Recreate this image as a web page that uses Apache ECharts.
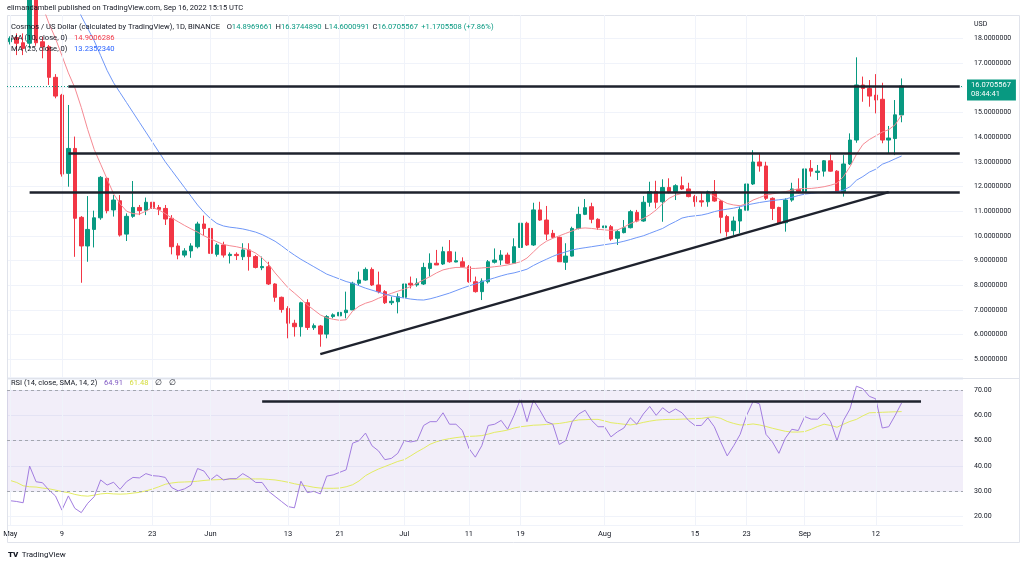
<!DOCTYPE html>
<html><head><meta charset="utf-8">
<script src="https://cdn.jsdelivr.net/npm/echarts@6/dist/echarts.min.js"></script>
<style>html,body{margin:0;padding:0;background:#fff}#c{width:1024px;height:565px}</style>
</head><body><div id="c"></div>
<script>
// ---------- categories (daily, 2022-05-01 .. 2022-09-25, last 9 days empty) ----------
const categories = [];
(function () {
  const t0 = Date.UTC(2022, 4, 1);
  for (let k = 0; k < 148; k++) categories.push(new Date(t0 + k * 86400000).toISOString().slice(0, 10));
})();

// x-axis tick labels
const xTickDates  = ['2022-05-01','2022-05-09','2022-05-23','2022-06-01','2022-06-13','2022-06-21','2022-07-01','2022-07-11','2022-07-19','2022-08-01','2022-08-15','2022-08-23','2022-09-01','2022-09-12'];
const xTickLabels = ['May','9','23','Jun','13','21','Jul','11','19','Aug','15','23','Sep','12'];

// ---------- OHLC ----------
const opens = [17.86,18.03,17.82,17.80,19.6,17.86,17.66,16.42,15.70,12.53,
13.54,10.75,9.59,10.26,10.73,12.33,11.05,11.42,10.07,10.79,
11.15,11.04,11.36,11.15,11.11,10.71,9.59,9.22,9.39,9.56,
10.48,10.30,9.25,9.63,9.20,9.25,9.155,9.43,9.16,8.71,
8.75,8.05,7.51,7.06,6.46,6.32,7.29,6.28,6.35,6.02,
6.73,6.76,6.89,7.00,8.08,8.21,8.64,8.01,7.74,7.29,
7.33,7.51,8.08,8.01,8.05,8.68,8.89,8.86,9.36,8.94,
8.95,8.75,8.14,7.74,8.14,8.93,9.02,9.22,8.89,9.53,
10.51,9.63,11.05,10.64,10.10,9.94,8.93,9.18,10.30,10.87,
11.18,10.67,10.33,10.37,9.90,10.13,10.33,10.95,10.60,11.36,
11.79,11.38,11.96,11.79,12.03,11.90,11.59,11.42,11.38,11.79,
11.41,10.78,10.21,10.60,11.04,12.10,12.99,12.83,11.52,11.15,
10.53,11.45,11.88,11.79,12.73,12.57,12.62,13.04,12.62,11.79,
12.91,13.88,16.11,15.97,15.70,15.53,13.88,13.94,14.8969661];
const closes = [18.00,17.80,17.59,19.6,17.82,17.66,16.42,15.66,12.50,13.54,
10.71,9.59,10.26,10.73,12.37,11.02,11.45,10.03,10.79,11.15,
11.02,11.36,11.11,11.07,10.68,9.56,9.22,9.39,9.59,10.48,
10.30,9.29,9.63,9.22,9.25,9.20,9.43,9.16,8.72,8.76,
8.05,7.51,7.02,6.46,6.32,7.29,6.29,6.36,6.02,6.73,
6.80,6.90,6.99,8.08,8.21,8.64,8.01,7.74,7.29,7.35,
7.53,8.05,8.01,8.08,8.72,8.89,8.82,9.36,8.95,8.99,
8.75,8.14,7.74,8.17,8.95,9.02,9.22,8.89,9.56,10.51,
9.63,11.05,10.64,10.07,9.94,8.95,9.18,10.30,10.87,11.14,
10.67,10.34,10.40,9.87,10.17,10.33,10.98,10.60,11.36,11.79,
11.36,11.96,11.75,12.03,11.90,11.59,11.38,11.37,11.79,11.41,
10.75,10.17,10.60,11.07,12.10,12.99,12.83,11.52,11.11,10.51,
11.45,11.90,11.79,12.71,12.62,12.62,13.04,12.62,11.79,12.91,
13.88,16.11,15.97,15.66,15.50,13.88,13.96,14.90,16.0705567];
const highs = [18.08,18.2,18.2,20.2,19.9,18.07,17.73,16.55,15.75,15.30,
14.02,10.8,11.61,11.02,12.42,12.37,11.65,11.65,10.91,12.22,
11.25,11.55,12.33,11.25,11.25,10.84,9.70,9.50,9.70,10.57,
10.82,10.44,9.70,9.76,9.33,9.33,9.70,9.70,9.22,9.16,
8.95,8.08,7.54,7.15,6.60,7.33,7.43,6.45,6.39,6.79,
6.86,7.13,7.74,8.14,8.55,8.72,8.72,8.55,7.80,7.54,
7.67,8.35,8.35,8.28,8.91,9.29,9.43,9.56,9.83,9.36,
9.13,8.82,8.35,8.28,9.02,9.49,9.42,9.32,9.90,10.75,
10.57,11.34,11.38,11.21,10.24,9.97,9.70,10.37,11.18,11.49,
11.34,10.71,11.25,10.44,10.24,10.64,11.05,11.05,11.61,12.19,
12.23,12.29,12.33,12.09,12.40,12.15,11.66,11.77,11.83,12.26,
11.45,10.85,10.78,11.18,12.19,13.47,13.31,13.00,11.56,11.18,
11.52,12.15,12.33,12.80,13.07,12.87,13.07,13.34,12.66,13.27,
14.15,17.23,16.45,16.31,16.55,16.20,14.45,15.50,16.3744890];
const lows = [17.75,17.32,17.32,17.6,17.7,17.19,16.11,15.57,12.40,11.99,
9.15,8.10,8.95,9.53,10.65,10.91,10.78,9.97,9.79,10.73,
10.84,10.84,10.98,10.84,10.44,9.25,9.05,9.13,9.11,9.49,
10.03,9.12,9.16,9.12,8.88,9.02,9.02,8.59,8.68,8.61,
8.01,7.33,6.89,5.85,5.92,5.92,6.19,6.19,5.51,5.85,
6.66,6.59,6.66,7.00,7.97,8.18,7.97,7.67,7.24,7.20,
6.86,7.47,7.87,7.94,8.01,8.35,8.82,8.82,8.91,8.93,
8.72,8.10,7.70,7.40,8.07,8.88,8.82,8.86,8.86,9.22,
9.59,9.59,10.61,9.83,9.90,8.95,8.62,9.16,10.26,10.84,
10.51,10.24,10.24,9.80,9.63,10.10,10.30,10.55,10.57,11.18,
11.11,10.57,11.72,11.45,11.86,11.56,11.18,11.18,11.18,11.38,
10.10,9.97,10.03,10.10,10.98,12.06,12.60,11.45,10.64,10.48,
10.17,11.38,11.72,11.75,12.40,12.26,12.40,12.60,11.75,11.59,
12.87,13.77,15.43,15.23,14.96,13.75,13.34,13.27,14.6000991];

// ---------- moving averages ----------
const ma10 = [20.8,20.5,20.2,19.9,19.6,19.3,18.6,18.0,17.3,16.6,
16.0,15.2,14.3,13.5,12.9,12.3,11.7,11.3,11.0,10.9,
10.88,11.0,11.15,11.05,10.9,10.72,10.57,10.42,10.28,10.15,
10.0,9.88,9.76,9.65,9.6,9.56,9.5,9.43,9.3,9.1,
8.85,8.5,8.2,7.9,7.68,7.45,7.2,7.0,6.8,6.68,
6.62,6.58,6.6,6.95,7.15,7.27,7.35,7.47,7.57,7.67,
7.76,7.84,7.95,8.08,8.22,8.35,8.5,8.62,8.68,8.72,
8.72,8.68,8.68,8.7,8.72,8.75,8.78,8.82,8.88,8.95,
9.1,9.35,9.6,9.78,9.9,10.0,10.1,10.2,10.3,10.32,
10.3,10.27,10.24,10.22,10.24,10.35,10.5,10.6,10.7,10.85,
11.05,11.3,11.52,11.65,11.72,11.76,11.79,11.78,11.75,11.6,
11.45,11.31,11.25,11.22,11.3,11.45,11.55,11.65,11.7,11.75,
11.79,11.85,11.9,11.92,11.92,11.95,11.99,12.05,12.13,12.4,
12.8,13.3,13.7,13.9,14.05,14.2,14.3,14.5,14.9006286];
const ma25 = [23.6,23.3,23.0,22.7,22.4,22.0,21.6,21.1,20.6,20.1,
19.5,18.9,18.4,17.9,17.3,16.7,16.2,15.8,15.4,15.0,
14.6,14.2,13.8,13.4,13.0,12.65,12.3,11.95,11.6,11.25,
10.95,10.7,10.5,10.4,10.35,10.32,10.28,10.22,10.15,10.05,
9.92,9.78,9.6,9.4,9.22,9.05,8.9,8.75,8.6,8.45,
8.35,8.25,8.15,8.08,7.98,7.88,7.8,7.72,7.64,7.57,
7.52,7.48,7.44,7.41,7.40,7.45,7.52,7.6,7.68,7.78,
7.88,7.97,8.05,8.14,8.22,8.3,8.38,8.45,8.5,8.57,
8.65,8.8,8.93,9.05,9.17,9.27,9.35,9.43,9.48,9.52,
9.56,9.6,9.64,9.68,9.72,9.78,9.85,9.93,10.0,10.1,
10.2,10.3,10.45,10.58,10.72,10.78,10.81,10.84,10.9,10.98,
11.04,11.08,11.12,11.18,11.25,11.3,11.35,11.39,11.43,11.46,
11.49,11.56,11.63,11.69,11.72,11.75,11.76,11.77,11.79,11.85,
11.99,12.25,12.4,12.58,12.7,12.9,13.0,13.12,13.2352340];

// ---------- RSI ----------
const rsi = [26.3,26.0,25.5,40.0,33.8,33.4,30.5,28.2,22.6,28.2,
23.3,21.6,25.3,27.9,34.5,32.5,33.6,30.8,33.8,35.5,
35.3,37.0,36.2,36.0,35.5,31.5,30.2,31.0,32.5,39.0,
38.0,34.5,36.5,34.5,35.0,35.0,37.0,35.5,33.5,33.5,
30.0,28.0,26.0,24.0,23.5,34.0,29.5,30.0,29.0,36.0,
36.5,37.5,38.5,49.0,50.0,53.0,48.0,46.0,42.5,43.0,
45.0,50.0,49.5,50.0,56.0,57.5,57.5,61.0,56.5,56.5,
54.0,47.0,43.5,48.0,56.0,56.5,58.0,54.5,60.0,66.5,
57.5,66.0,62.0,57.5,56.5,48.5,50.0,57.5,60.5,62.0,
58.0,55.5,55.5,51.5,53.5,55.0,59.0,56.5,60.5,63.5,
60.0,63.0,61.0,62.5,61.0,58.0,56.0,56.0,59.0,55.5,
49.5,44.0,48.0,52.5,60.0,65.5,64.5,52.5,49.5,45.0,
51.0,54.5,54.0,59.5,58.5,58.5,61.0,57.5,50.0,58.0,
62.5,71.5,70.5,67.5,66.5,55.0,55.5,60.0,64.91];
const rsiSma = [34.3,33.5,32.2,31.8,31.7,31.3,31.0,30.5,29.9,29.5,
28.8,28.3,28.1,28.5,29.0,29.2,29.0,28.9,29.0,29.3,
29.6,30.2,30.9,31.8,32.8,33.3,33.6,33.7,33.8,34.0,
34.3,34.5,34.6,34.7,34.8,34.8,34.9,34.9,34.9,34.9,
34.7,34.5,34.1,33.6,33.0,32.5,32.1,31.6,31.3,31.2,
31.2,31.3,31.8,32.6,34.1,36.2,37.6,38.8,39.8,40.8,
41.8,42.5,44.0,45.6,47.0,48.6,49.6,50.3,50.8,51.2,
51.5,51.7,51.8,52.0,52.6,53.3,53.7,54.2,55.0,55.5,
55.8,56.1,56.2,56.4,56.6,56.8,57.2,57.7,58.2,58.3,
58.4,58.4,57.8,57.1,56.8,56.5,56.2,56.6,57.2,57.7,
58.1,58.3,58.4,58.4,58.5,58.6,58.7,58.8,59.2,59.4,
58.8,57.6,56.8,56.2,56.3,56.6,56.2,55.6,54.9,54.3,
53.7,53.4,53.4,53.6,54.5,55.6,56.5,56.0,55.3,56.5,
57.6,58.4,59.8,61.0,61.1,61.2,61.3,61.4,61.48];

// ---------- drawn annotations (price levels / trend) ----------
const resistanceLevels = [[9, 16.06], [9, 13.34], [3, 11.77]];   // [start day index, price]
const trendLine = [[48, 5.21], [136, 11.77]];
const rsiLevel = [[39, 65.4], [141, 65.4]];
const lastPrice = 16.0705567;

const UP = '#089981', DOWN = '#f23645';
const FONT = 'Roboto';
const candleData = opens.map((o, k) => [o, closes[k], lows[k], highs[k]]);
const lastCat = categories[categories.length - 1];

const tickSet = {};
xTickDates.forEach((d, k) => tickSet[d] = xTickLabels[k]);
const vGrid = xTickDates.map(d => ({ xAxis: d }));

const chart = echarts.init(document.getElementById('c'));
const option = {
  animation: false,
  backgroundColor: '#ffffff',
  textStyle: { fontFamily: FONT },
  grid: [
    { left: 7, right: 61, top: 15, height: 362 },
    { left: 7, right: 61, top: 379, height: 146 }
  ],
  xAxis: [
    { type: 'category', gridIndex: 0, data: categories, boundaryGap: true,
      axisLine: { show: false }, axisTick: { show: false }, axisLabel: { show: false }, splitLine: { show: false } },
    { type: 'category', gridIndex: 1, data: categories, boundaryGap: true,
      axisLine: { show: false }, axisTick: { show: false }, splitLine: { show: false },
      axisLabel: { interval: (i, v) => tickSet.hasOwnProperty(v), formatter: v => tickSet[v] || '',
        color: '#131722', fontSize: 7.5, margin: 5, fontFamily: FONT } }
  ],
  yAxis: [
    { type: 'value', gridIndex: 0, position: 'right', min: 4.283, max: 18.944, splitNumber: 14,
      axisLine: { show: false }, axisTick: { show: false },
      axisLabel: { formatter: v => v.toFixed(7), color: '#131722', fontSize: 7, margin: 11,
        showMinLabel: false, showMaxLabel: false, fontFamily: FONT },
      splitLine: { lineStyle: { color: '#f0f3fa', width: 1 } } },
    { type: 'value', gridIndex: 1, position: 'right', min: 16.72, max: 74.34, splitNumber: 5,
      axisLine: { show: false }, axisTick: { show: false },
      axisLabel: { formatter: v => v.toFixed(2), color: '#131722', fontSize: 7, margin: 11,
        showMinLabel: false, showMaxLabel: false, fontFamily: FONT },
      splitLine: { lineStyle: { color: '#f0f3fa', width: 1 } } }
  ],
  series: [
    { type: 'line', xAxisIndex: 0, yAxisIndex: 0, data: [], z: 0, silent: true,
      markLine: { silent: true, symbol: 'none', label: { show: false },
        lineStyle: { color: '#f0f3fa', width: 1, type: 'solid' }, data: vGrid } },
    { type: 'line', xAxisIndex: 1, yAxisIndex: 1, data: [], z: 0, silent: true,
      markLine: { silent: true, symbol: 'none', label: { show: false },
        lineStyle: { color: '#f0f3fa', width: 1, type: 'solid' }, data: vGrid } },
    { type: 'candlestick', xAxisIndex: 0, yAxisIndex: 0, data: candleData, barWidth: 4, z: 3,
      itemStyle: { color: UP, color0: DOWN, borderColor: UP, borderColor0: DOWN, borderWidth: 1 },
      markLine: { silent: true, symbol: 'none', animation: false,
        lineStyle: { color: UP, type: [1, 2], width: 1 },
        label: { show: true, position: 'end', distance: 4, offset: [0, 4], formatter: '16.0705567\n08:44:41',
          backgroundColor: UP, color: '#ffffff', fontSize: 7.5, lineHeight: 9, padding: [2, 5, 1, 4], fontFamily: FONT, align: 'left' },
        data: [{ yAxis: lastPrice }] } },
    { type: 'line', name: 'MA10', xAxisIndex: 0, yAxisIndex: 0, data: ma10, showSymbol: false, z: 4,
      lineStyle: { color: '#f58a93', width: 1 }, clip: true },
    { type: 'line', name: 'MA25', xAxisIndex: 0, yAxisIndex: 0, data: ma25, showSymbol: false, z: 4,
      lineStyle: { color: '#6f97f7', width: 1 }, clip: true },
    { type: 'line', xAxisIndex: 0, yAxisIndex: 0, data: [], z: 10, silent: true,
      markLine: { silent: true, symbol: 'none', label: { show: false },
        lineStyle: { color: '#1e222d', width: 2.5, type: 'solid' },
        data: resistanceLevels.map(l => [{ coord: [categories[l[0]], l[1]] }, { coord: [lastCat, l[1]] }])
          .concat([[{ coord: [categories[trendLine[0][0]], trendLine[0][1]] }, { coord: [categories[trendLine[1][0]], trendLine[1][1]] }]]) } },
    { type: 'line', name: 'RSI', xAxisIndex: 1, yAxisIndex: 1, data: rsi, showSymbol: false, z: 4,
      lineStyle: { color: '#a27de0', width: 1 },
      markArea: { silent: true, itemStyle: { color: 'rgba(126,87,194,0.1)' }, data: [[{ yAxis: 30 }, { yAxis: 70 }]] },
      markLine: { silent: true, symbol: 'none', label: { show: false },
        lineStyle: { color: '#a3a6af', width: 1, type: [3, 3] }, data: [{ yAxis: 70 }, { yAxis: 50 }, { yAxis: 30 }] } },
    { type: 'line', name: 'RSI SMA', xAxisIndex: 1, yAxisIndex: 1, data: rsiSma, showSymbol: false, z: 3,
      lineStyle: { color: '#e3ec63', width: 1 } },
    { type: 'line', xAxisIndex: 1, yAxisIndex: 1, data: [], z: 10, silent: true,
      markLine: { silent: true, symbol: 'none', label: { show: false },
        lineStyle: { color: '#1e222d', width: 2.5, type: 'solid' },
        data: [[{ coord: [categories[rsiLevel[0][0]], rsiLevel[0][1]] }, { coord: [categories[rsiLevel[1][0]], rsiLevel[1][1]] }]] } }
  ],
  graphic: [
    { type: 'rect', z: 1, silent: true, shape: { x: 7.5, y: 15.5, width: 1012, height: 527 },
      style: { fill: 'none', stroke: '#e0e3eb', lineWidth: 1 } },
    { type: 'line', z: 1, silent: true, shape: { x1: 7, y1: 378.5, x2: 1020, y2: 378.5 },
      style: { stroke: '#e0e3eb', lineWidth: 1 } },
    { type: 'text', z: 50, left: 7, top: 4, silent: true,
      style: { text: 'elimandambell published on TradingView.com, Sep 16, 2022 15:15 UTC', fill: '#131722', fontSize: 7.5, fontFamily: FONT } },
    { type: 'text', z: 50, left: 11, top: 21, silent: true,
      style: { text: '{t|Cosmos / US Dollar (calculated by TradingView), 1D, BINANCE}  {t|O}{g|14.8969661} {t|H}{g|16.3744890} {t|L}{g|14.6000991} {t|C}{g|16.0705567} {g|+1.1705508 (+7.86%)}',
        rich: { t: { fill: '#131722', fontSize: 7.6, fontFamily: FONT }, g: { fill: UP, fontSize: 7.6, fontFamily: FONT } } } },
    { type: 'text', z: 50, left: 11, top: 32, silent: true,
      style: { text: '{t|MA (10, close, 0)}  {r|14.9006286}',
        rich: { t: { fill: '#131722', fontSize: 7.6, fontFamily: FONT }, r: { fill: '#f23645', fontSize: 7.6, fontFamily: FONT } } } },
    { type: 'text', z: 50, left: 11, top: 43, silent: true,
      style: { text: '{t|MA (25, close, 0)}  {b|13.2352340}',
        rich: { t: { fill: '#131722', fontSize: 7.6, fontFamily: FONT }, b: { fill: '#2962ff', fontSize: 7.6, fontFamily: FONT } } } },
    { type: 'text', z: 50, left: 974, top: 21, silent: true,
      style: { text: 'USD', fill: '#131722', fontSize: 7, fontFamily: FONT } },
    { type: 'text', z: 50, left: 11, top: 377, silent: true,
      style: { text: '{t|RSI (14, close, SMA, 14, 2)}  {p|64.91}  {y|61.48}  {t|∅}  {t|∅}',
        rich: { t: { fill: '#131722', fontSize: 7.5, fontFamily: FONT }, p: { fill: '#7e57c2', fontSize: 7.5, fontFamily: FONT },
          y: { fill: '#d4dc3a', fontSize: 7.5, fontFamily: FONT } } } },
    { type: 'text', z: 50, left: 8, top: 549, silent: true,
      style: { text: '{l|TV} {t|TradingView}',
        rich: { l: { fill: '#131722', fontSize: 8, fontWeight: 900, fontFamily: FONT }, t: { fill: '#131722', fontSize: 8, fontFamily: FONT } } } }
  ]
};
chart.setOption(option);
</script></body></html>
